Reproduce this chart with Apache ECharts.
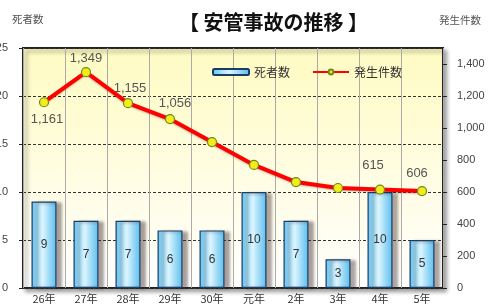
<!DOCTYPE html>
<html>
<head>
<meta charset="utf-8">
<script src="https://cdn.jsdelivr.net/npm/echarts@6/dist/echarts.min.js"></script>
<style>
  html, body { margin: 0; padding: 0; background: #fff; }
  #main { width: 488px; height: 307px; }
</style>
</head>
<body>
<div id="main"></div>
<script>
// 年度
var years = ['26年', '27年', '28年', '29年', '30年', '元年', '2年', '3年', '4年', '5年'];
// 死者数
var deaths = [9, 7, 7, 6, 6, 10, 7, 3, 10, 5];
// 発生件数
var incidents = [1161, 1349, 1155, 1056, 912, 769, 662, 625, 615, 606];
// 数値を表示する点
var labeled = [true, true, true, true, false, false, false, false, true, true];

var jp = '"Noto Sans CJK JP", sans-serif';

// ラベルの置き方（点ごと）
var labelLayout = {
    0: { position: 'bottom', offset: [3, 1] },
    1: { position: 'top', distance: 2 },
    2: { position: 'top', distance: 3, offset: [2, 0] },
    3: { position: 'top', distance: 4, offset: [5, 0] },
    8: { position: 'top', distance: 13, offset: [-7, 0] },
    9: { position: 'top', distance: 6, offset: [-5, 0] }
};

var lineData = incidents.map(function (v, i) {
    if (!labeled[i]) return { value: v, label: { show: false } };
    var lab = Object.assign({ show: true }, labelLayout[i]);
    return { value: v, label: lab };
});

echarts.init(document.getElementById('main')).setOption({
    animation: false,
    textStyle: { fontFamily: jp },
    title: {
        text: '【 安管事故の推移 】',
        left: 174,
        top: 7,
        textStyle: { fontSize: 20, fontWeight: 'bold', color: '#111', fontFamily: jp }
    },
    graphic: [
        { type: 'text', left: 12, top: 14, style: { text: '死者数', fontSize: 10.5, fill: '#555', fontFamily: jp } },
        { type: 'text', left: 439, top: 15, style: { text: '発生件数', fontSize: 10.5, fill: '#555', fontFamily: jp } }
    ],
    legend: {
        left: 207,
        top: 61,
        itemGap: 22,
        itemWidth: 36,
        itemHeight: 6,
        textStyle: { fontSize: 12, color: '#333', fontFamily: jp },
        data: ['死者数', '発生件数']
    },
    grid: {
        left: 23, right: 45, top: 48, bottom: 19,
        outerBoundsMode: 'none',
        containLabel: false,
        show: true,
        borderColor: '#222',
        borderWidth: 2,
        shadowColor: 'rgba(0,0,0,0.35)',
        shadowBlur: 4,
        shadowOffsetX: 3,
        shadowOffsetY: 3,
        backgroundColor: new echarts.graphic.LinearGradient(0, 0, 0, 1, [
            { offset: 0, color: '#fffbc2' },
            { offset: 0.6, color: '#fffde6' },
            { offset: 1, color: '#ffffff' }
        ])
    },
    xAxis: {
        type: 'category',
        data: years,
        boundaryGap: true,
        axisLine: { show: false },
        axisTick: { show: false },
        axisLabel: { color: '#333', fontSize: 11, margin: 5, fontFamily: jp },
        splitLine: { show: true, lineStyle: { color: '#aaa', width: 1 } }
    },
    yAxis: [{
        type: 'value',
        min: 0, max: 25, interval: 5,
        axisLine: { show: false },
        axisTick: { show: true, length: 4, inside: false, lineStyle: { color: '#222' } },
        axisLabel: { color: '#444', fontSize: 11, margin: 15, fontFamily: 'Liberation Sans, sans-serif' },
        splitLine: { show: true, lineStyle: { type: [3, 2], color: '#333', width: 1 } }
    }, {
        type: 'value',
        min: 0, max: 1500, interval: 200,
        axisLine: { show: false },
        axisTick: { show: true, length: 4, lineStyle: { color: '#222' } },
        axisLabel: {
            color: '#444', fontSize: 11, margin: 14, showMaxLabel: false,
            fontFamily: 'Liberation Sans Narrow, Liberation Sans, sans-serif',
            formatter: function (v) { return v.toLocaleString('en-US'); }
        },
        splitLine: { show: false }
    }],
    series: [{
        name: '死者数',
        type: 'bar',
        yAxisIndex: 0,
        data: deaths,
        barWidth: 25,
        itemStyle: {
            color: new echarts.graphic.LinearGradient(0, 0, 1, 0, [
                { offset: 0, color: '#5fc4f2' },
                { offset: 0.45, color: '#dcf5ff' },
                { offset: 1, color: '#58bdee' }
            ]),
            borderColor: '#1c3c66',
            borderWidth: 1.2,
            shadowColor: 'rgba(60,40,40,0.45)',
            shadowBlur: 3,
            shadowOffsetX: 5,
            shadowOffsetY: 1
        },
        label: {
            show: true,
            position: 'inside',
            color: '#333',
            fontSize: 12,
            fontFamily: 'Liberation Sans, sans-serif'
        }
    }, {
        name: '発生件数',
        type: 'line',
        yAxisIndex: 1,
        data: lineData,
        symbol: 'circle',
        symbolSize: 9,
        lineStyle: { color: '#ff0000', width: 4, shadowColor: 'rgba(0,0,0,0.25)', shadowBlur: 2, shadowOffsetY: 1 },
        itemStyle: { color: '#f2ec1a', borderColor: '#6e8a1a', borderWidth: 1.2 },
        label: {
            color: '#555',
            fontSize: 13,
            fontFamily: 'Liberation Sans, sans-serif',
            formatter: function (p) { return p.value.toLocaleString('en-US'); }
        },
        z: 3
    }]
});
</script>
</body>
</html>
